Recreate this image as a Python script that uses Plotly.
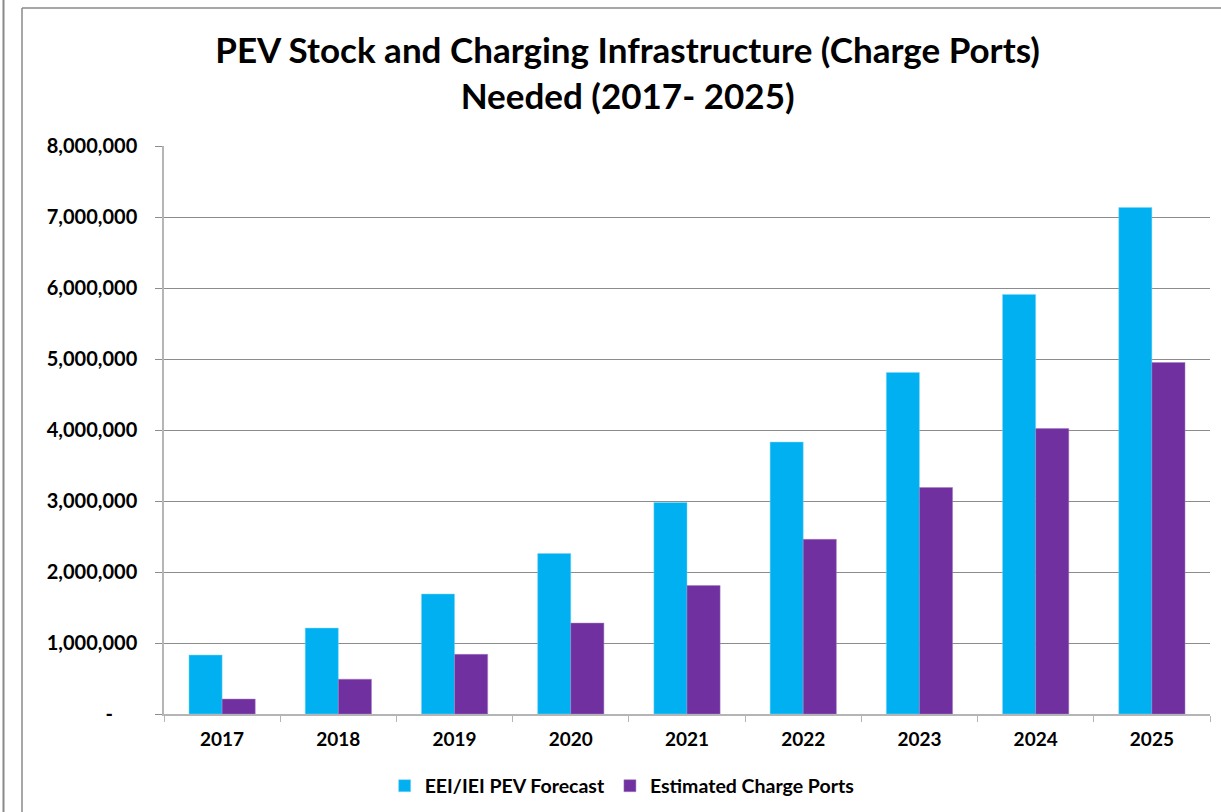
import plotly.graph_objects as go

years = ["2017", "2018", "2019", "2020", "2021", "2022", "2023", "2024", "2025"]
pev_forecast = [830000, 1210000, 1690000, 2260000, 2980000, 3830000, 4810000, 5910000, 7135000]
charge_ports = [210000, 490000, 840000, 1280000, 1810000, 2460000, 3190000, 4020000, 4950000]
series_names = ["EEI/IEI PEV Forecast", "Estimated Charge Ports"]
y_tickvals = [0, 1000000, 2000000, 3000000, 4000000, 5000000, 6000000, 7000000, 8000000]
y_ticktext = ["-\u00a0\u00a0\u00a0\u00a0\u00a0"] + [f"{v:,}" for v in y_tickvals[1:]]

FONT = "Lato, 'Open Sans', sans-serif"

fig = go.Figure()
fig.add_trace(go.Bar(x=years, y=pev_forecast, name=series_names[0],
                     marker=dict(color="#00B0F0", line=dict(color="#7fd7f7", width=0.5))))
fig.add_trace(go.Bar(x=years, y=charge_ports, name=series_names[1],
                     marker=dict(color="#7030A0", line=dict(color="#a07cc0", width=0.5))))

W, H = 1221, 812
ml, mr, mt, mb = 164, 11, 146, 98
pw, ph = W - ml - mr, H - mt - mb

def px_x(x):
    return (x - ml) / pw

def px_y(y):
    return 1 - (y - mt) / ph

fig.update_layout(
    width=W, height=H,
    margin=dict(l=ml, r=mr, t=mt, b=mb, pad=0, autoexpand=False),
    paper_bgcolor="white", plot_bgcolor="white",
    barmode="group", bargap=0.43, bargroupgap=0,
    font=dict(family=FONT, color="black"),
    title=dict(text="<b>PEV Stock and Charging Infrastructure (Charge Ports)<br>Needed (2017- 2025)</b>",
               x=0.514, xanchor="center", yref="container", y=1 - 63 / H, yanchor="middle",
               font=dict(size=35, family=FONT, color="black")),
    legend=dict(orientation="h", x=0.438, xanchor="center", y=px_y(786), yanchor="middle",
                font=dict(size=19.5, family=FONT, color="black", weight="bold"),
                itemwidth=30, tracegroupgap=0, traceorder="normal"),
    showlegend=True,
    xaxis=dict(type="category", showline=True, linecolor="#b5b5b5", linewidth=1.5,
               ticks="outside", tickson="boundaries", ticklen=6, tickcolor="#b5b5b5",
               tickfont=dict(size=19, family=FONT, color="black"),
               tickprefix="<b>", ticksuffix="</b>", showgrid=False, fixedrange=True,
               ticklabelstandoff=7, automargin=False),
    yaxis=dict(range=[0, 8000000], tickvals=y_tickvals, ticktext=[f"<b>{t}</b>" for t in y_ticktext],
               showgrid=True, gridcolor="#8c8c8c", gridwidth=1,
               showline=True, linecolor="#b5b5b5", linewidth=1.5,
               ticks="outside", ticklen=7, tickcolor="#8c8c8c",
               tickfont=dict(size=20, family=FONT, color="black"),
               ticklabelstandoff=14, zeroline=False, automargin=False, fixedrange=True),
    shapes=[
        dict(type="line", xref="paper", yref="paper", x0=px_x(22), x1=px_x(22), y0=px_y(8), y1=px_y(830),
             line=dict(color="#8a8a8a", width=1.5)),
        dict(type="line", xref="paper", yref="paper", x0=px_x(22), x1=px_x(1240), y0=px_y(8), y1=px_y(8),
             line=dict(color="#8a8a8a", width=1.5)),
        dict(type="line", xref="paper", yref="paper", x0=px_x(3.5), x1=px_x(3.5), y0=px_y(-10), y1=px_y(830),
             line=dict(color="#8a8a8a", width=2)),
    ],
)

fig.write_html("out.html", config={"displayModeBar": False},
               post_script="document.body.style.margin='0';document.body.style.overflow='hidden';")
